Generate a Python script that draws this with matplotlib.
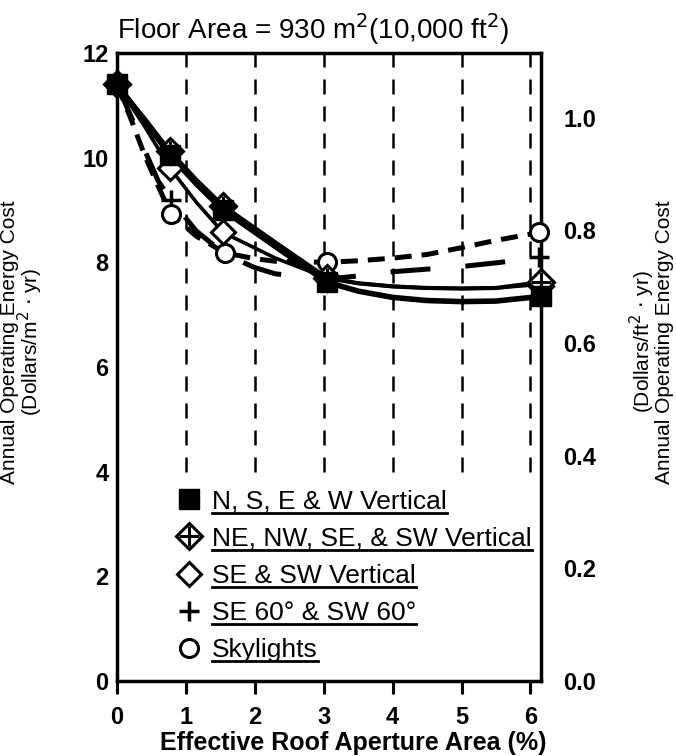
import matplotlib
matplotlib.use("Agg")
import matplotlib.pyplot as plt
from matplotlib.lines import Line2D

plt.rcParams['font.family'] = ['Liberation Sans', 'DejaVu Sans']

# measured points (markers)
x_pts = [0, 0.77, 1.54, 3.05, 6.15]
nsew = [11.4, 10.05, 9.0, 7.62, 7.35]
ne_nw = [11.4, 10.12, 9.08, 7.7, 7.62]
se_sw = [11.4, 9.8, 8.57, 7.7, 7.55]
x_pts2 = [0, 0.78, 1.57, 3.05, 6.13]
se60 = [11.4, 9.2, 8.2, 7.68, 8.1]
sky = [11.4, 8.93, 8.18, 8.0, 8.57]

# curves
cx = [0, 0.4, 0.77, 1.15, 1.54, 2.3, 3.05, 3.5, 4.0, 4.5, 5.0, 5.5, 6.15]
nsew_c = [11.4, 10.7, 10.05, 9.5, 9.0, 8.3, 7.62, 7.45, 7.33, 7.27, 7.25, 7.26, 7.35]
ne_nw_c = [11.4, 10.75, 10.12, 9.58, 9.08, 8.38, 7.7, 7.6, 7.54, 7.51, 7.5, 7.51, 7.62]
se_sw_c = [11.4, 10.6, 9.8, 9.15, 8.57, 8.08, 7.7, 7.6, 7.54, 7.51, 7.5, 7.51, 7.58]
dx = [0, 0.2, 0.4, 0.6, 0.78, 1.15, 1.57, 2.0, 2.3, 3.05, 3.5, 4.0, 4.5, 5.0, 5.5, 6.13]
se60_c = [11.4, 10.8, 10.15, 9.55, 9.2, 8.6, 8.15, 7.9, 7.78, 7.68, 7.74, 7.82, 7.87, 7.92, 7.99, 8.09]
sky_c = [11.4, 10.75, 10.05, 9.45, 8.93, 8.5, 8.18, 8.07, 8.02, 8.0, 8.03, 8.08, 8.15, 8.28, 8.42, 8.57]

grid_x = [1, 2, 3, 4, 5, 6]
labels = ['N, S, E & W Vertical', 'NE, NW, SE, & SW Vertical', 'SE & SW Vertical',
          'SE 60° & SW 60°', 'Skylights']

fig = plt.figure(figsize=(6.76, 7.56), dpi=100)
ax = fig.add_axes([0.173, 0.099, 0.627, 0.831])
ax.set_xlim(0, 6.15)
ax.set_ylim(0, 12)

ax.vlines(grid_x, 4, 12, colors='k', linewidth=1.8, linestyles=(0, (6, 4.8)), zorder=1)

# dashed series
ax.plot(dx, se60_c, color='k', lw=3.6, dashes=(8, 7), zorder=2)
ax.plot(dx, sky_c, color='k', lw=3.6, dashes=(3.4, 2.0), zorder=2)
h_se60, = ax.plot(x_pts2, se60, ls='none', marker='+', ms=15, mew=2.5, color='k', clip_on=False, zorder=4)
h_sky, = ax.plot(x_pts2, sky, ls='none', marker='o', ms=13, mew=2.2, mfc='white', mec='k', clip_on=False, zorder=4)

# solid series
ax.plot(cx, se_sw_c, color='k', lw=2.6, zorder=3)
ax.plot(cx, ne_nw_c, color='k', lw=3.0, zorder=3)
ax.plot(cx, nsew_c, color='k', lw=4.0, zorder=3)
h_sesw, = ax.plot(x_pts, se_sw, ls='none', marker='D', ms=12, mew=2.2, mfc='white', mec='k', clip_on=False, zorder=5)
h_ne_d, = ax.plot(x_pts, ne_nw, ls='none', marker='D', ms=13, mew=2.2, mfc='white', mec='k', clip_on=False, zorder=5)
h_ne_p, = ax.plot(x_pts, ne_nw, ls='none', marker='+', ms=15, mew=2.2, color='k', clip_on=False, zorder=5)
h_nsew, = ax.plot(x_pts, nsew, ls='none', marker='s', ms=15, color='k', clip_on=False, zorder=6)

for s in ax.spines.values():
    s.set_linewidth(2.5)
ax.set_xticks(range(7))
ax.tick_params(axis='x', direction='out', length=9, width=2.2, labelsize=17, pad=9)
ax.set_yticks(range(0, 13, 2))
ax.tick_params(axis='y', length=0, labelsize=17, pad=6)
for t in ax.get_xticklabels() + ax.get_yticklabels():
    t.set_fontweight('bold')

sec = ax.secondary_yaxis('right', functions=(lambda y: y * 0.0929, lambda y: y / 0.0929))
sec.set_yticks([0.0, 0.2, 0.4, 0.6, 0.8, 1.0])
sec.set_yticklabels(['0.0', '0.2', '0.4', '0.6', '0.8', '1.0'], fontsize=17, fontweight='bold')
sec.tick_params(length=0, pad=16)
sec.set_ylabel('(Dollars/ft$^2$ $\\cdot$ yr)\nAnnual Operating Energy Cost', fontsize=15,
               linespacing=0.85)
sec.yaxis.set_label_coords(1.205, 0.54, transform=ax.transAxes)

ax.set_ylabel('Annual Operating Energy Cost\n(Dollars/m$^2$ $\\cdot$ yr)', fontsize=15, linespacing=0.85)
ax.yaxis.set_label_coords(-0.17, 0.54)
ax.set_xlabel('Effective Roof Aperture Area (%)', fontsize=18, fontweight='bold')
ax.xaxis.set_label_coords(0.557, -0.08)

ax.text(0.0, 1.01, 'Floor Area = 930 m$^2$(10,000 ft$^2$)', transform=ax.transAxes,
        fontsize=20, ha='left', va='bottom')

leg = ax.legend([h_nsew, (h_ne_d, h_ne_p), h_sesw, h_se60, h_sky], labels,
                loc='lower left', bbox_to_anchor=(0.14, 0.03), frameon=False,
                fontsize=19, handlelength=1.0, handletextpad=0.35, labelspacing=0.5,
                borderaxespad=0, borderpad=0)

fig.canvas.draw()
r = fig.canvas.get_renderer()
for t in leg.get_texts():
    bb = t.get_window_extent(r)
    y = (bb.y0 + 1) / fig.bbox.height
    fig.add_artist(Line2D([bb.x0 / fig.bbox.width, bb.x1 / fig.bbox.width], [y, y],
                          color='k', lw=2.0))

fig.savefig('out.png', dpi=100)
